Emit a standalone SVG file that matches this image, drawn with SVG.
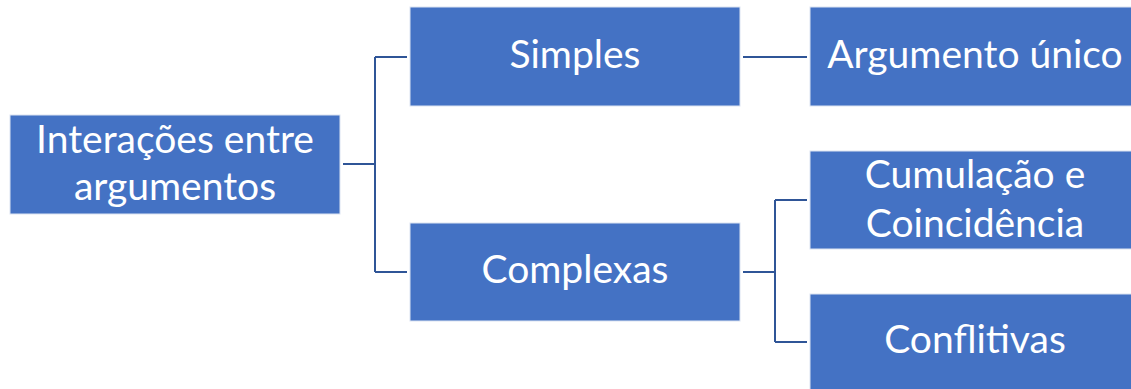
<svg xmlns="http://www.w3.org/2000/svg" width="1131" height="389" viewBox="0 0 1131 389">
  <style>
    .box { fill: #4472C4; stroke: #DCE4F2; stroke-width: 1; }
    .label { fill: #FFFFFF; font-family: Lato, "Open Sans", "Liberation Sans", sans-serif; font-size: 39px; text-anchor: middle; }
    .link { fill: none; stroke: #2F5597; stroke-width: 2; }
  </style>
  <rect width="1131" height="389" fill="#FFFFFF"/>

  <g id="connectors">
    <path class="link" d="M343,164 H375 M375,57 V272 M375,57 H407 M375,272 H407"/>
    <path class="link" d="M743,57 H807"/>
    <path class="link" d="M743,272 H775 M775,200 V342 M775,200 H807 M775,342 H807"/>
  </g>

  <g id="node-root">
    <rect class="box" x="10" y="115" width="330" height="99"/>
    <text class="label" x="175" y="153">Interações entre</text>
    <text class="label" x="175" y="200">argumentos</text>
  </g>

  <g id="node-simples">
    <rect class="box" x="410" y="7" width="330" height="99"/>
    <text class="label" x="575" y="68">Simples</text>
  </g>

  <g id="node-complexas">
    <rect class="box" x="410" y="223" width="330" height="98"/>
    <text class="label" x="575" y="283">Complexas</text>
  </g>

  <g id="node-argumento-unico">
    <rect class="box" x="810" y="7" width="330" height="99"/>
    <text class="label" x="975" y="68">Argumento único</text>
  </g>

  <g id="node-cumulacao">
    <rect class="box" x="810" y="151" width="330" height="98"/>
    <text class="label" x="975" y="188">Cumulação e</text>
    <text class="label" x="975" y="237">Coincidência</text>
  </g>

  <g id="node-conflitivas">
    <rect class="box" x="810" y="294" width="330" height="98"/>
    <text class="label" x="975" y="353">Conflitivas</text>
  </g>
</svg>
